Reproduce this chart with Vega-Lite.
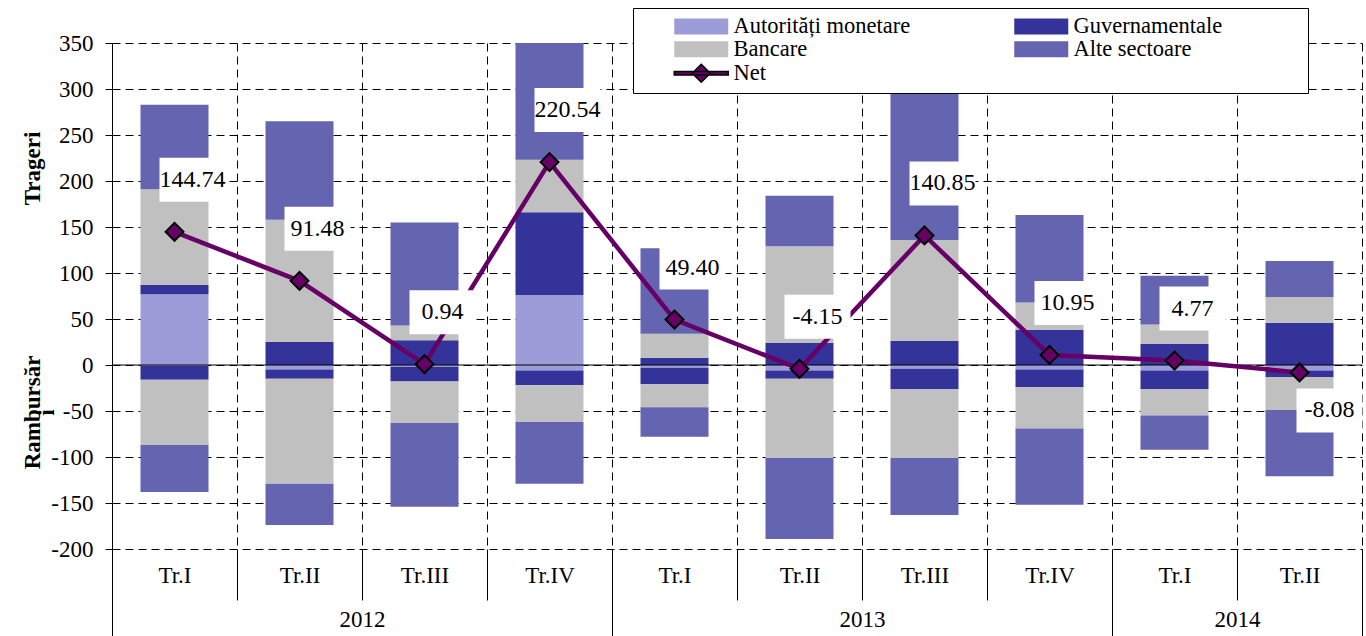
{
  "$schema": "https://vega.github.io/schema/vega-lite/v6.json",
  "width": 1250,
  "height": 506,
  "autosize": {"type": "none"},
  "padding": {"left": 112, "top": 43, "right": 4, "bottom": 87},
  "background": "white",
  "config": {
    "view": {"stroke": null},
    "font": "Liberation Serif",
    "locale": {"number": {"decimal": ".", "thousands": ",", "grouping": [3], "currency": ["", ""], "minus": "-"}},
    "axis": {"labelFont": "Liberation Serif", "titleFont": "Liberation Serif", "labelColor": "black", "titleColor": "black"}
  },
  "datasets": {
    "bars": [
      {"q": "2012 Tr.I", "sector": "Autorități monetare", "v": 77},
      {"q": "2012 Tr.I", "sector": "Autorități monetare", "v": -1},
      {"q": "2012 Tr.I", "sector": "Guvernamentale", "v": 10},
      {"q": "2012 Tr.I", "sector": "Guvernamentale", "v": -15},
      {"q": "2012 Tr.I", "sector": "Bancare", "v": 104},
      {"q": "2012 Tr.I", "sector": "Bancare", "v": -71},
      {"q": "2012 Tr.I", "sector": "Alte sectoare", "v": 92},
      {"q": "2012 Tr.I", "sector": "Alte sectoare", "v": -51},
      {"q": "2012 Tr.II", "sector": "Autorități monetare", "v": -5},
      {"q": "2012 Tr.II", "sector": "Guvernamentale", "v": 25},
      {"q": "2012 Tr.II", "sector": "Guvernamentale", "v": -10},
      {"q": "2012 Tr.II", "sector": "Bancare", "v": 133},
      {"q": "2012 Tr.II", "sector": "Bancare", "v": -114},
      {"q": "2012 Tr.II", "sector": "Alte sectoare", "v": 107},
      {"q": "2012 Tr.II", "sector": "Alte sectoare", "v": -45},
      {"q": "2012 Tr.III", "sector": "Autorități monetare", "v": -2},
      {"q": "2012 Tr.III", "sector": "Guvernamentale", "v": 27},
      {"q": "2012 Tr.III", "sector": "Guvernamentale", "v": -16},
      {"q": "2012 Tr.III", "sector": "Bancare", "v": 16},
      {"q": "2012 Tr.III", "sector": "Bancare", "v": -45},
      {"q": "2012 Tr.III", "sector": "Alte sectoare", "v": 112},
      {"q": "2012 Tr.III", "sector": "Alte sectoare", "v": -91},
      {"q": "2012 Tr.IV", "sector": "Autorități monetare", "v": 76},
      {"q": "2012 Tr.IV", "sector": "Autorități monetare", "v": -6},
      {"q": "2012 Tr.IV", "sector": "Guvernamentale", "v": 90},
      {"q": "2012 Tr.IV", "sector": "Guvernamentale", "v": -16},
      {"q": "2012 Tr.IV", "sector": "Bancare", "v": 57},
      {"q": "2012 Tr.IV", "sector": "Bancare", "v": -40},
      {"q": "2012 Tr.IV", "sector": "Alte sectoare", "v": 127},
      {"q": "2012 Tr.IV", "sector": "Alte sectoare", "v": -67},
      {"q": "2013 Tr.I", "sector": "Autorități monetare", "v": -3},
      {"q": "2013 Tr.I", "sector": "Guvernamentale", "v": 8},
      {"q": "2013 Tr.I", "sector": "Guvernamentale", "v": -18},
      {"q": "2013 Tr.I", "sector": "Bancare", "v": 26},
      {"q": "2013 Tr.I", "sector": "Bancare", "v": -25},
      {"q": "2013 Tr.I", "sector": "Alte sectoare", "v": 93},
      {"q": "2013 Tr.I", "sector": "Alte sectoare", "v": -32},
      {"q": "2013 Tr.II", "sector": "Autorități monetare", "v": -6},
      {"q": "2013 Tr.II", "sector": "Guvernamentale", "v": 24},
      {"q": "2013 Tr.II", "sector": "Guvernamentale", "v": -9},
      {"q": "2013 Tr.II", "sector": "Bancare", "v": 105},
      {"q": "2013 Tr.II", "sector": "Bancare", "v": -86},
      {"q": "2013 Tr.II", "sector": "Alte sectoare", "v": 55},
      {"q": "2013 Tr.II", "sector": "Alte sectoare", "v": -88},
      {"q": "2013 Tr.III", "sector": "Autorități monetare", "v": -4},
      {"q": "2013 Tr.III", "sector": "Guvernamentale", "v": 26},
      {"q": "2013 Tr.III", "sector": "Guvernamentale", "v": -22},
      {"q": "2013 Tr.III", "sector": "Bancare", "v": 110},
      {"q": "2013 Tr.III", "sector": "Bancare", "v": -75},
      {"q": "2013 Tr.III", "sector": "Alte sectoare", "v": 168},
      {"q": "2013 Tr.III", "sector": "Alte sectoare", "v": -62},
      {"q": "2013 Tr.IV", "sector": "Autorități monetare", "v": -5},
      {"q": "2013 Tr.IV", "sector": "Guvernamentale", "v": 38},
      {"q": "2013 Tr.IV", "sector": "Guvernamentale", "v": -19},
      {"q": "2013 Tr.IV", "sector": "Bancare", "v": 30},
      {"q": "2013 Tr.IV", "sector": "Bancare", "v": -45},
      {"q": "2013 Tr.IV", "sector": "Alte sectoare", "v": 95},
      {"q": "2013 Tr.IV", "sector": "Alte sectoare", "v": -83},
      {"q": "2014 Tr.I", "sector": "Autorități monetare", "v": -6},
      {"q": "2014 Tr.I", "sector": "Guvernamentale", "v": 23},
      {"q": "2014 Tr.I", "sector": "Guvernamentale", "v": -20},
      {"q": "2014 Tr.I", "sector": "Bancare", "v": 21},
      {"q": "2014 Tr.I", "sector": "Bancare", "v": -29},
      {"q": "2014 Tr.I", "sector": "Alte sectoare", "v": 53},
      {"q": "2014 Tr.I", "sector": "Alte sectoare", "v": -37},
      {"q": "2014 Tr.II", "sector": "Autorități monetare", "v": -6},
      {"q": "2014 Tr.II", "sector": "Guvernamentale", "v": 46},
      {"q": "2014 Tr.II", "sector": "Guvernamentale", "v": -7},
      {"q": "2014 Tr.II", "sector": "Bancare", "v": 28},
      {"q": "2014 Tr.II", "sector": "Bancare", "v": -36},
      {"q": "2014 Tr.II", "sector": "Alte sectoare", "v": 39},
      {"q": "2014 Tr.II", "sector": "Alte sectoare", "v": -72}
    ],
    "net": [
      {"q": "2012 Tr.I", "net": 144.74},
      {"q": "2012 Tr.II", "net": 91.48},
      {"q": "2012 Tr.III", "net": 0.94},
      {"q": "2012 Tr.IV", "net": 220.54},
      {"q": "2013 Tr.I", "net": 49.40},
      {"q": "2013 Tr.II", "net": -4.15},
      {"q": "2013 Tr.III", "net": 140.85},
      {"q": "2013 Tr.IV", "net": 10.95},
      {"q": "2014 Tr.I", "net": 4.77},
      {"q": "2014 Tr.II", "net": -8.08}
    ]
  },
  "layer": [
    {
      "data": {"name": "bars"},
      "transform": [
        {"calculate": "indexof(['Autorități monetare','Guvernamentale','Bancare','Alte sectoare'], datum.sector)", "as": "ord"}
      ],
      "mark": {"type": "bar", "width": {"band": 0.544}, "strokeWidth": 0},
      "encoding": {
        "x": {
          "field": "q", "type": "nominal",
          "scale": {"type": "band", "domain": ["2012 Tr.I", "2012 Tr.II", "2012 Tr.III", "2012 Tr.IV", "2013 Tr.I", "2013 Tr.II", "2013 Tr.III", "2013 Tr.IV", "2014 Tr.I", "2014 Tr.II"], "paddingInner": 0, "paddingOuter": 0},
          "axis": {
            "title": null, "orient": "bottom", "labelAngle": 0,
            "labelExpr": "split(datum.value, ' ')[1]",
            "labelFontSize": 23, "labelPadding": -36,
            "ticks": true, "tickSize": 51, "tickColor": "black", "tickWidth": 1,
            "tickBand": "extent", "domain": false,
            "grid": true, "gridDash": [8, 5], "gridColor": "black", "gridOpacity": 1, "gridWidth": 1
          }
        },
        "y": {
          "field": "v", "type": "quantitative", "stack": "zero",
          "scale": {"domain": [-200, 350], "nice": false, "zero": false},
          "axis": {
            "orient": "left", "title": "Trageri",
            "titleFontSize": 23, "titleFontWeight": "bold", "titleX": -80, "titleY": 125,
            "titleAngle": -90, "titleAlign": "center", "titleBaseline": "middle",
            "values": [-200, -150, -100, -50, 0, 50, 100, 150, 200, 250, 300, 350],
            "labelFontSize": 23, "tickSize": 7, "tickColor": "black", "labelPadding": 12,
            "domainColor": "black", "domainWidth": 1,
            "grid": true, "gridDash": [8, 5], "gridColor": "black", "gridOpacity": 1, "gridWidth": 1
          }
        },
        "color": {
          "field": "sector", "type": "nominal",
          "scale": {
            "domain": ["Autorități monetare", "Guvernamentale", "Bancare", "Alte sectoare", "Net"],
            "range": ["#9c9cd8", "#333399", "#c0c0c0", "#6464b0", "#660066"]
          },
          "legend": {
            "orient": "none", "legendX": 521, "legendY": -35, "title": null,
            "direction": "horizontal",
            "columns": 2, "columnPadding": 69, "rowPadding": 0, "padding": 7,
            "strokeColor": "black", "fillColor": "white",
            "labelFont": "Liberation Serif", "labelFontSize": 22.5, "labelColor": "black", "labelLimit": 500,
            "symbolSize": 100, "symbolOffset": 28, "labelOffset": 43,
            "symbolType": "M-1,-1.6H9.8V1.6H-1Z", "symbolStrokeWidth": 0,
            "labelExpr": "datum.label === 'Guvernamentale' ? datum.label + '\u00a0\u00a0\u00a0\u00a0\u00a0\u00a0\u00a0\u00a0\u00a0\u00a0\u00a0\u00a0\u00a0\u00a0\u200b' : datum.label",
            "encode": {
              "symbols": {
                "update": {
                  "shape": {"signal": "datum.value === 'Net' ? 'M-1,-0.35H9.8V0.35H-1Z M4.4,-1.8L6.2,0L4.4,1.8L2.6,0Z' : 'M-1,-1.6H9.8V1.6H-1Z'"},
                  "stroke": {"signal": "datum.value === 'Net' ? 'black' : 'transparent'"},
                  "strokeWidth": {"signal": "datum.value === 'Net' ? 1.5 : 0"}
                }
              }
            }
          }
        },
        "order": {"field": "ord", "type": "quantitative"}
      }
    },
    {
      "data": {"values": [{}]},
      "mark": {"type": "rule", "color": "black", "strokeWidth": 1.2},
      "encoding": {"y": {"datum": 0, "type": "quantitative", "axis": null}}
    },
    {
      "data": {"name": "net"},
      "mark": {"type": "line", "color": "#660066", "strokeWidth": 4.5},
      "encoding": {
        "x": {
          "field": "q", "type": "nominal", "scale": {"type": "band"},
          "axis": {
            "title": null, "orient": "bottom", "labelAngle": 0,
            "labelExpr": "datum.value == '2012 Tr.II' ? '2012' : datum.value == '2013 Tr.II' ? '2013' : datum.value == '2014 Tr.I' ? '2014' : ''",
            "labelOffset": 62.5, "labelFontSize": 23, "labelPadding": -28,
            "ticks": true, "tickSize": 87, "tickColor": "black", "tickWidth": 1, "tickBand": "extent",
            "tickOpacity": {"condition": {"test": "datum.extra || datum.value == '2012 Tr.IV' || datum.value == '2013 Tr.IV' || datum.value == '2014 Tr.II'", "value": 1}, "value": 0},
            "domain": false, "grid": false
          }
        },
        "y": {
          "field": "net", "type": "quantitative",
          "axis": {
            "orient": "left", "title": ["Rambursăr", "i"],
            "titleFontSize": 23, "titleFontWeight": "bold", "titleX": -80, "titleY": 369,
            "titleAngle": -90, "titleAlign": "center", "titleBaseline": "middle", "titleLineHeight": 14,
            "labels": false, "ticks": false, "domain": false, "grid": false
          }
        }
      }
    },
    {
      "data": {"name": "net"},
      "transform": [{"filter": "datum.net >= -5"}],
      "mark": {"type": "point", "filled": true, "fill": "white", "opacity": 1, "strokeWidth": 0, "size": 400, "shape": "M-1.5,-7.4H5.1V-3.0H-1.5Z"},
      "encoding": {
        "x": {"field": "q", "type": "nominal", "axis": null},
        "y": {"field": "net", "type": "quantitative", "axis": null}
      }
    },
    {
      "data": {"name": "net"},
      "transform": [{"filter": "datum.net < -5"}],
      "mark": {"type": "point", "filled": true, "fill": "white", "opacity": 1, "strokeWidth": 0, "size": 400, "shape": "M-0.3,1.6H6.3V6.0H-0.3Z"},
      "encoding": {
        "x": {"field": "q", "type": "nominal", "axis": null},
        "y": {"field": "net", "type": "quantitative", "axis": null}
      }
    },
    {
      "data": {"name": "net"},
      "mark": {"type": "point", "shape": "diamond", "filled": true, "fill": "#660066", "stroke": "black", "strokeWidth": 2, "size": 320, "opacity": 1},
      "encoding": {
        "x": {"field": "q", "type": "nominal", "axis": null},
        "y": {"field": "net", "type": "quantitative", "axis": null}
      }
    },
    {
      "data": {"name": "net"},
      "transform": [{"filter": "datum.net >= -5"}],
      "mark": {"type": "text", "dx": 18, "dy": -52, "fontSize": 24, "font": "Liberation Serif", "color": "black", "baseline": "middle", "align": "center"},
      "encoding": {
        "x": {"field": "q", "type": "nominal", "axis": null},
        "y": {"field": "net", "type": "quantitative", "axis": null},
        "text": {"field": "net", "type": "quantitative", "format": ".2f"}
      }
    },
    {
      "data": {"name": "net"},
      "transform": [{"filter": "datum.net < -5"}],
      "mark": {"type": "text", "dx": 30, "dy": 38, "fontSize": 24, "font": "Liberation Serif", "color": "black", "baseline": "middle", "align": "center"},
      "encoding": {
        "x": {"field": "q", "type": "nominal", "axis": null},
        "y": {"field": "net", "type": "quantitative", "axis": null},
        "text": {"field": "net", "type": "quantitative", "format": ".2f"}
      }
    }
  ],
  "resolve": {"axis": {"x": "independent", "y": "independent"}}
}
